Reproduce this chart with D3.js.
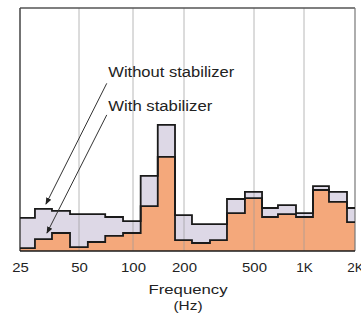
<!DOCTYPE html>
<html><head><meta charset="utf-8">
<script src="https://cdn.jsdelivr.net/npm/d3@7"></script>
<style>body{margin:0;background:#fff} svg{display:block}</style>
</head><body>
<svg id="chart" width="361" height="316"></svg>
<script>
// 1/3-octave bands (Hz)
const bandCenters = ["25","31.5","40","50","63","80","100","125","160","200","250","315","400","500","630","800","1K","1.25K","1.6K","2K"];
const bandEdges = [25, 29.8, 36.4, 45, 56, 70, 88, 111, 140, 177, 222, 281, 351, 444, 559, 697, 895, 1130, 1404, 1794, 2000];
// relative level (arbitrary units)
const withoutStabilizer = [13.6,17.3,16.5,15.2,15.2,14.0,12.3,30.9,51.9,14.8,11.1,11.1,21.4,24.3,17.7,18.9,15.6,26.7,24.3,17.7];
const withStabilizer    = [1.2,4.9,7.4,1.6,3.7,6.2,7.4,18.5,38.7,4.5,3.3,4.5,15.6,21.8,14.0,15.2,14.0,25.1,20.2,11.9];
const tickValues = [25,50,100,200,500,1000,2000];
const tickLabels = ["25","50","100","200","500","1K","2K"];
const gridValues = [50,100,200,500,1000];
const annotationTexts = ["Without stabilizer","With stabilizer"];
const annotationTextPos = [[72.8,71.6],[72.8,57.6]];   // [Hz, level]
const arrowStarts = [[71.4,69.0],[71.4,56.0]];
const arrowTips   = [[33.9,19.3],[34.3,7.4]];

const svg = d3.select("#chart");
const x = d3.scaleLog()
  .domain([25,50,100,200,500,1000,2000])
  .range([20,79,133,184,254,304,355]);
const y = d3.scaleLinear().domain([0,100]).range([251,8]);

function stepData(vals){
  const d = vals.map((v,i)=>({f:bandEdges[i], v}));
  d.push({f:bandEdges[bandEdges.length-1], v:vals[vals.length-1]});
  return d;
}
const area = d3.area().curve(d3.curveStepAfter).x(d=>x(d.f)).y0(y(0)).y1(d=>y(d.v));
const line = d3.line().curve(d3.curveStepAfter).x(d=>x(d.f)).y(d=>y(d.v));

svg.append("path").datum(stepData(withoutStabilizer)).attr("d",area).attr("fill","#ddd8e6");
svg.append("path").datum(stepData(withStabilizer)).attr("d",area).attr("fill","#f4a87b");

// grid
svg.append("g").selectAll("line").data(gridValues).join("line")
  .attr("x1",d=>x(d)).attr("x2",d=>x(d)).attr("y1",y(100)).attr("y2",y(0))
  .attr("stroke","#9a9a9a").attr("stroke-opacity",0.7).attr("stroke-width",1);

// frame
svg.append("line").attr("x1",x(25)).attr("x2",x(2000)).attr("y1",y(100)).attr("y2",y(100)).attr("stroke","#555").attr("stroke-width",1.3);
svg.append("line").attr("x1",x(25)).attr("x2",x(25)).attr("y1",y(100)).attr("y2",y(0)).attr("stroke","#444").attr("stroke-width",1.5);
svg.append("line").attr("x1",x(2000)).attr("x2",x(2000)).attr("y1",y(100)).attr("y2",y(0)).attr("stroke","#777").attr("stroke-width",1.2);

// step outlines
svg.append("path").datum(stepData(withoutStabilizer)).attr("d",line).attr("fill","none").attr("stroke","#1a1a1a").attr("stroke-width",1.8);
svg.append("path").datum(stepData(withStabilizer)).attr("d",line).attr("fill","none").attr("stroke","#1a1a1a").attr("stroke-width",1.8);
svg.append("line").attr("x1",x(25)).attr("x2",x(2000)).attr("y1",y(0)).attr("y2",y(0)).attr("stroke","#1a1a1a").attr("stroke-width",1.6);

// axis labels
const axis = d3.axisBottom(x).tickValues(tickValues).tickFormat((d,i)=>tickLabels[i]).tickSize(0).tickPadding(11);
const gx = svg.append("g").attr("transform",`translate(0,${y(0)})`).call(axis);
gx.select(".domain").remove();
gx.selectAll("text").attr("font-family","Liberation Sans, Arial, sans-serif").attr("font-size",13.5)
  .attr("fill","#222").attr("textLength",function(){return this.textContent.length*8.3;}).attr("lengthAdjust","spacingAndGlyphs");

svg.append("text").attr("x",188).attr("y",294).attr("text-anchor","middle")
  .attr("font-family","Liberation Sans, Arial, sans-serif").attr("font-size",13).attr("fill","#222")
  .attr("textLength",79).attr("lengthAdjust","spacingAndGlyphs").text("Frequency");
svg.append("text").attr("x",188).attr("y",310).attr("text-anchor","middle")
  .attr("font-family","Liberation Sans, Arial, sans-serif").attr("font-size",12.5).attr("fill","#222")
  .attr("textLength",29).attr("lengthAdjust","spacingAndGlyphs").text("(Hz)");

// arrows
const defs = svg.append("defs");
defs.append("marker").attr("id","ah").attr("viewBox","0 0 10 10").attr("refX",9).attr("refY",5)
  .attr("markerWidth",7).attr("markerHeight",7).attr("markerUnits","userSpaceOnUse").attr("orient","auto")
  .append("path").attr("d","M0,1 L10,5 L0,9 Z").attr("fill","#222");
svg.append("g").selectAll("line").data(arrowStarts).join("line")
  .attr("x1",d=>x(d[0])).attr("y1",d=>y(d[1]))
  .attr("x2",(d,i)=>x(arrowTips[i][0])).attr("y2",(d,i)=>y(arrowTips[i][1]))
  .attr("stroke","#333").attr("stroke-width",1).attr("marker-end","url(#ah)");
svg.append("g").selectAll("text").data(annotationTexts).join("text")
  .attr("x",(d,i)=>x(annotationTextPos[i][0])).attr("y",(d,i)=>y(annotationTextPos[i][1]))
  .attr("font-family","Liberation Sans, Arial, sans-serif").attr("font-size",15.5).attr("fill","#222")
  .attr("textLength",(d,i)=>[126,104][i]).attr("lengthAdjust","spacingAndGlyphs")
  .text(d=>d);
</script>
</body></html>
